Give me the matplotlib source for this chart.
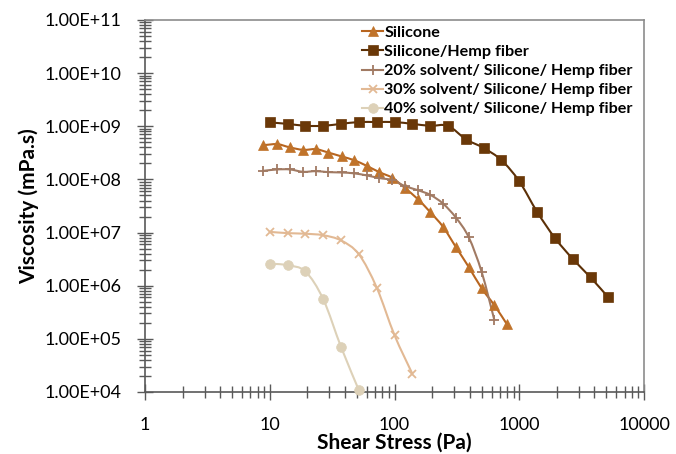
import numpy as np
import matplotlib.pyplot as plt
from matplotlib.path import Path
from matplotlib.patches import PathPatch
from matplotlib.ticker import LogLocator, FixedLocator, FuncFormatter, NullFormatter

plt.rcParams['font.family'] = ['Lato', 'DejaVu Sans']

# data
sil_x = [8.9, 11.5, 14.5, 18.5, 23.5, 29.5, 37.7, 47.4, 59.8, 75.5,
         96, 121, 153, 194, 245, 311, 393, 500, 631, 794]
sil_y = [4.4e8, 4.6e8, 4.0e8, 3.6e8, 3.7e8, 3.2e8, 2.7e8, 2.3e8, 1.8e8, 1.37e8,
         1.07e8, 6.9e7, 4.3e7, 2.4e7, 1.28e7, 5.3e6, 2.26e6, 8.9e5, 4.3e5, 1.9e5]

hemp_x = [10, 13.9, 19.3, 26.8, 37.3, 51.8, 72, 100, 139, 193,
          268, 373, 518, 720, 1000, 1390, 1930, 2680, 3730, 5180]
hemp_y = [1.18e9, 1.11e9, 1.02e9, 1.02e9, 1.11e9, 1.2e9, 1.2e9, 1.2e9, 1.11e9, 1.02e9,
          1.02e9, 5.7e8, 3.9e8, 2.3e8, 9.2e7, 2.45e7, 7.9e6, 3.2e6, 1.43e6, 6.0e5]

s20_x = [8.9, 11.5, 14.5, 18.5, 23.5, 29.5, 37.7, 47.4, 59.8, 75.5,
         96, 121, 153, 194, 245, 311, 393, 500, 630]
s20_y = [1.45e8, 1.54e8, 1.54e8, 1.39e8, 1.43e8, 1.37e8, 1.35e8, 1.3e8, 1.19e8, 1.06e8,
         9.7e7, 7.5e7, 6.3e7, 5.1e7, 3.5e7, 1.9e7, 8.2e6, 1.8e6, 2.3e5]

s30_x = [10, 13.9, 19.3, 26.8, 37.3, 51.8, 72, 100, 139]
s30_y = [1.03e7, 9.75e6, 9.5e6, 8.9e6, 7.1e6, 3.9e6, 9.2e5, 1.17e5, 2.2e4]

s40_x = [10, 13.9, 19.3, 26.8, 37.3, 51.8]
s40_y = [2.6e6, 2.43e6, 1.85e6, 5.6e5, 7.0e4, 1.08e4]

labels = ['Silicone', 'Silicone/Hemp fiber', '20% solvent/ Silicone/ Hemp fiber',
          '30% solvent/ Silicone/ Hemp fiber', '40% solvent/ Silicone/ Hemp fiber']


def smooth_line(ax, xs, ys, color, lw):
    # excel-like smoothed line, cubic bezier in log space
    lx = np.log10(xs)
    ly = np.log10(ys)
    n = len(lx)
    verts = [(xs[0], ys[0])]
    codes = [Path.MOVETO]
    t = 1 / 6
    for i in range(n - 1):
        p0 = max(i - 1, 0)
        p3 = min(i + 2, n - 1)
        c1x = lx[i] + (lx[i + 1] - lx[p0]) * t
        c1y = ly[i] + (ly[i + 1] - ly[p0]) * t
        c2x = lx[i + 1] - (lx[p3] - lx[i]) * t
        c2y = ly[i + 1] - (ly[p3] - ly[i]) * t
        verts += [(10 ** c1x, 10 ** c1y), (10 ** c2x, 10 ** c2y), (xs[i + 1], ys[i + 1])]
        codes += [Path.CURVE4] * 3
    ax.add_patch(PathPatch(Path(verts, codes), fill=False, edgecolor=color, lw=lw,
                           clip_on=False, zorder=2))


fig = plt.figure(figsize=(6.76, 4.54), dpi=100)
ax = fig.add_axes([0.2145, 0.1366, 0.7382, 0.8194])
ax.set_xscale('log')
ax.set_yscale('log')
ax.set_xlim(1, 10000)
ax.set_ylim(1e4, 1e11)

series = [
    (sil_x, sil_y, '#B8651F', '#C0732A', '^', 7),
    (hemp_x, hemp_y, '#5C3007', '#6A3808', 's', 7),
    (s20_x, s20_y, '#A17A63', '#A17A63', '+', 7),
    (s30_x, s30_y, '#E2B994', '#E2B994', 'x', 6),
    (s40_x, s40_y, '#DDD1B8', '#DDD1B8', 'o', 7),
]
handles = []
for (xs, ys, lc, mc, mk, ms), lab in zip(series, labels):
    smooth_line(ax, xs, ys, lc, 1.5)
    mew = 1.3 if mk in '+x' else 0.5
    ax.plot(xs, ys, ls='none', marker=mk, ms=ms, color=mc, mec=mc, mew=mew,
            clip_on=False, zorder=3)
    h, = ax.plot([], [], color=lc, lw=1.5, marker=mk, ms=ms, mfc=mc, mec=mc, mew=mew)
    handles.append(h)

leg = ax.legend(handles, labels, loc='upper right', bbox_to_anchor=(1.0, 1.015),
                frameon=False, prop={'weight': 'bold', 'size': 11.6},
                handlelength=1.25, handletextpad=0.1, labelspacing=0.3,
                borderaxespad=0.3)

ax.xaxis.set_major_locator(FixedLocator([1, 10, 100, 1000, 10000]))
ax.xaxis.set_minor_locator(LogLocator(base=10, subs=np.arange(2, 10)))
ax.xaxis.set_minor_formatter(NullFormatter())
ax.xaxis.set_major_formatter(FuncFormatter(lambda v, p: '%d' % v))
ax.yaxis.set_major_locator(FixedLocator([10.0 ** k for k in range(4, 12)]))
ax.yaxis.set_minor_locator(LogLocator(base=10, subs=np.arange(2, 10), numticks=20))
ax.yaxis.set_minor_formatter(NullFormatter())
ax.yaxis.set_major_formatter(FuncFormatter(lambda v, p: '1.00E+%02d' % round(np.log10(v))))

ax.tick_params(which='major', direction='inout', length=12, width=1, color='#595959',
               labelsize=13, pad=11)
ax.tick_params(which='minor', direction='inout', length=9, width=1, color='#595959')
ax.tick_params(axis='x', which='major', pad=12)

for s in ['left', 'bottom']:
    ax.spines[s].set_color('#595959')
    ax.spines[s].set_linewidth(1.2)
for s in ['top', 'right']:
    ax.spines[s].set_color('#8c8c8c')
    ax.spines[s].set_linewidth(1.2)

ax.set_xlabel('Shear Stress (Pa)', fontsize=15, fontweight='bold', labelpad=0)
ax.set_ylabel('Viscosity (mPa.s)', fontsize=15, fontweight='bold', labelpad=4)

fig.savefig('out.png', dpi=100)
